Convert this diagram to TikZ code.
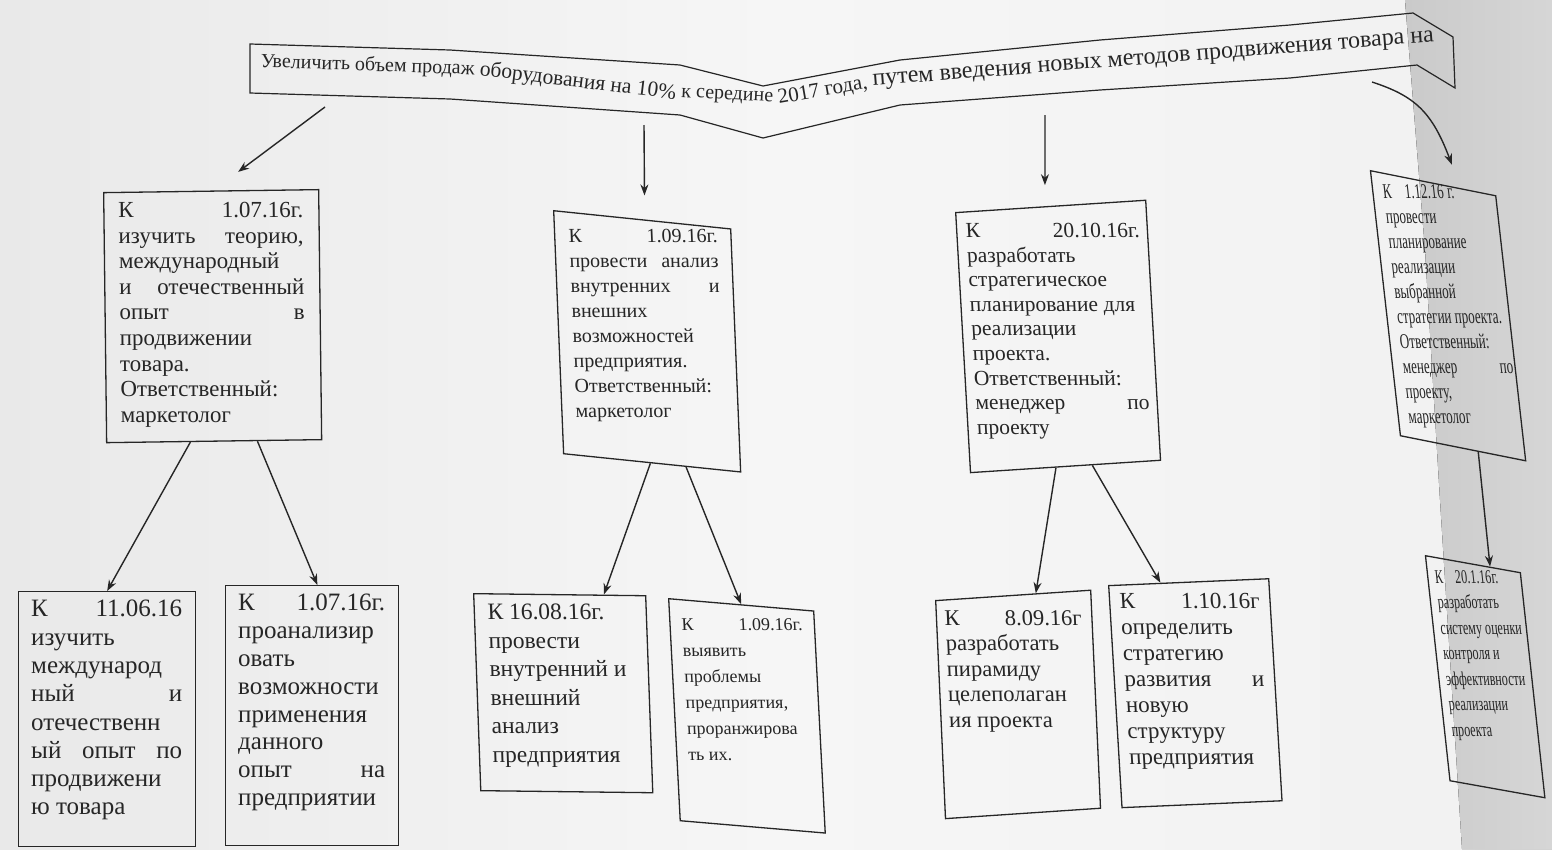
\documentclass[tikz,border=0pt]{standalone}
\usepackage{fontspec}
\setmainfont{Liberation Serif}
\usetikzlibrary{calc,arrows.meta}
\definecolor{ink}{HTML}{262626}
\definecolor{pageL}{HTML}{E9E9E9}
\definecolor{pageM}{HTML}{F6F6F6}
\definecolor{pageR}{HTML}{F1F1F1}
\definecolor{shadeA}{HTML}{CACACA}
\definecolor{shadeB}{HTML}{D6D6D6}
% one justified line, stretched over the whole text width
\newcommand\jl[1]{\makebox[\linewidth][s]{#1}}
% text block of a task card: width, font size, leading, lines
\newcommand\cellbox[4]{\parbox[t]{#1pt}{\fontsize{#2pt}{#3pt}\selectfont\raggedright #4\par}}
\newcommand\fs[1]{\fontsize{#1pt}{#1pt}\selectfont}
\tikzset{
  frame/.style={draw=ink, line width=1.3pt, anchor=north west, inner sep=0pt},
  txt/.style={anchor=north west, text=ink, inner sep=0pt},
  arr/.style={draw=ink, line width=1.4pt, -{Stealth[length=11pt,width=8pt]}},
  bt/.style={text=ink, inner xsep=2.5pt, inner ysep=0pt, anchor=west},
  ribbon/.style={draw=ink, line width=1.2pt}
}
\begin{document}
\begin{tikzpicture}[x=1pt,y=-1pt]
\useasboundingbox (0,0) rectangle (1552,849);
% paper
\shade[left color=pageL, right color=pageR, middle color=pageM] (0,0) rectangle (1552,849);
\fill[left color=shadeA, right color=shadeB] (1405,0) -- (1552,0) -- (1552,849) -- (1462,849) -- (1440,500) -- (1425,250) -- cycle;

% goal ribbon
\coordinate (r1) at (250,44);
\coordinate (r2) at (450,50);
\coordinate (r3) at (680,65);
\coordinate (r4) at (763,86);
\coordinate (r5) at (900,60);
\coordinate (r6) at (1100,40);
\coordinate (r7) at (1290,25);
\coordinate (r8) at (1413,13);
\coordinate (r9) at (1453,37);
\coordinate (s9) at (1455,88);
\coordinate (s8) at (1417,65);
\coordinate (s7) at (1290,78);
\coordinate (s6) at (1100,90);
\coordinate (s5) at (900,105);
\coordinate (s4) at (763,138);
\coordinate (s3) at (680,115);
\coordinate (s2) at (450,99);
\coordinate (s1) at (250,93);
\draw[ribbon] (r1) -- (r2) -- (r3) -- (r4) -- (r5) -- (r6) -- (r7) -- (r8) -- (r9) -- (s9) -- (s8) -- (s7) -- (s6) -- (s5) -- (s4) -- (s3) -- (s2) -- (s1) -- cycle;
\node[bt, rotate=-2, font=\fs{20}] (g1) at (258,62) {Увеличить объем продаж};
\node[bt, rotate=-7, font=\fs{21.5}] (g2) at (g1.east) {оборудования на 10\%};
\node[bt, rotate=-3, font=\fs{20}] (g3) at (g2.east) {к середине};
\node[bt, rotate=10, font=\fs{21}] (g4) at (g3.east) {2017 года,};
\node[bt, rotate=4.5, font=\fs{24}] (g5) at (g4.east) {путем введения новых методов продвижения товара на};

% first level task cards: frame, then its text
\node[frame, minimum width=215pt, minimum height=250pt, cm={1,0.014,-0.012,1,(0,0)}] (A) at (103,192) {};
\node[txt, cm={1,0,-0.012,1,(0,0)}] (At) at ($(A.north west)+(15,10)$)
 {\cellbox{185}{23}{25.6}{\jl{К 1.07.16г.}\\ \jl{изучить теорию,}\\ международный\\ \jl{и отечественный}\\ \jl{опыт в}\\ продвижении\\ товара.\\ Ответственный:\\ маркетолог}};

\node[frame, minimum width=177pt, minimum height=243pt, cm={1,-0.103,-0.041,1,(0,0)}] (B) at (553,210) {};
\node[txt, cm={1,0,-0.041,1,(0,0)}] (Bt) at ($(B.north west)+(15,19)$)
 {\cellbox{149}{20}{25}{\jl{К 1.09.16г.}\\ \jl{провести анализ}\\ \jl{внутренних и}\\ внешних\\ возможностей\\ предприятия.\\ Ответственный:\\ маркетолог}};

\node[frame, minimum width=190pt, minimum height=260pt, cm={1,0.065,-0.057,1,(0,0)}] (C) at (955,212) {};
\node[txt, cm={1,0,-0.057,1,(0,0)}] (Ct) at ($(C.north west)+(10,11)$)
 {\cellbox{174}{21.5}{24.6}{\jl{К 20.10.16г.}\\ разработать\\ стратегическое\\ планирование для\\ реализации\\ проекта.\\ Ответственный:\\ \jl{менеджер по}\\ проекту}};

\node[frame, minimum width=202pt, minimum height=265pt, cm={0.62,-0.124,-0.113,1,(0,0)}] (D) at (1370,170) {};
\node[txt, cm={0.62,0,-0.113,1,(0,0)}] (Dt) at ($(D.north west)+(12,14)$)
 {\cellbox{178}{21}{25}{К\quad 1.12.16 г.\\ провести\\ планирование\\ реализации\\ выбранной\\ стратегии проекта.\\ Ответственный:\\ \jl{менеджер по}\\ проекту,\\ маркетолог}};

% second level task cards
\node[frame, minimum width=177pt, minimum height=255pt] (F) at (18,591) {};
\node[txt] (Ft) at ($(F.north west)+(13,9)$)
 {\cellbox{151}{25}{28.3}{\jl{К 11.06.16}\\ изучить\\ международ\\ \jl{ный и}\\ отечественн\\ \jl{ый опыт по}\\ продвижени\\ ю товара}};

\node[frame, minimum width=173pt, minimum height=260pt] (G) at (225,585) {};
\node[txt] (Gt) at ($(G.north west)+(13,9)$)
 {\cellbox{147}{25}{27.8}{\jl{К 1.07.16г.}\\ проанализир\\ овать\\ возможности\\ применения\\ данного\\ \jl{опыт на}\\ предприятии}};

\node[frame, minimum width=172pt, minimum height=197pt, cm={1,-0.012,-0.036,1,(0,0)}] (H) at (473,593) {};
\node[txt, cm={1,0,-0.036,1,(0,0)}] (Ht) at ($(H.north west)+(14,11)$)
 {\cellbox{146}{23.5}{28.5}{К 16.08.16г.\\ провести\\ внутренний и\\ внешний\\ анализ\\ предприятия}};

\node[frame, minimum width=145pt, minimum height=222pt, cm={1,-0.085,-0.052,1,(0,0)}] (I) at (668,598) {};
\node[txt, cm={1,0,-0.052,1,(0,0)}] (It) at ($(I.north west)+(13,20)$)
 {\cellbox{121}{18}{26}{\jl{К 1.09.16г.}\\ выявить\\ проблемы\\ предприятия,\\ проранжирова\\ ть их.}};

\node[frame, minimum width=155pt, minimum height=218pt, cm={1,0.067,-0.045,1,(0,0)}] (J) at (935,600) {};
\node[txt, cm={1,0,-0.045,1,(0,0)}] (Jt) at ($(J.north west)+(9,10)$)
 {\cellbox{137}{22.5}{25.5}{\jl{К 8.09.16г}\\ разработать\\ пирамиду\\ целеполаган\\ ия проекта}};

\node[frame, minimum width=160pt, minimum height=222pt, cm={1,0.043,-0.06,1,(0,0)}] (K) at (1108,585) {};
\node[txt, cm={1,0,-0.06,1,(0,0)}] (Kt) at ($(K.north west)+(11,8)$)
 {\cellbox{140}{23}{26}{\jl{К 1.10.16г}\\ определить\\ стратегию\\ \jl{развития и}\\ новую\\ структуру\\ предприятия}};

\node[frame, minimum width=153pt, minimum height=225pt, cm={0.62,-0.111,-0.109,1,(0,0)}] (E) at (1425,555) {};
\node[txt, cm={0.62,0,-0.109,1,(0,0)}] (Et) at ($(E.north west)+(9,15)$)
 {\cellbox{133}{19.5}{25.5}{К\quad 20.1.16г.\\ разработать\\ систему оценки\\ контроля и\\ эффективности\\ реализации\\ проекта}};

% arrows from the goal
\coordinate (o1) at (325,107);
\coordinate (o2) at (644,125);
\coordinate (o3) at (1045,115);
\coordinate (o4) at (1372,82);
\draw[arr, shorten >=31pt] (o1) -- ($(A.north west)!0.51!(A.north east)$);
\draw[arr, shorten >=24pt] (o2) -- ($(B.north west)!0.514!(B.north east)$);
\draw[arr, shorten >=21pt] (o3) -- ($(C.north west)!0.47!(C.north east)$);
\draw[arr, shorten >=25pt] (o4) .. controls (1415,96) and (1432,112) .. ($(D.north west)!0.72!(D.north east)$);

% arrows between levels
\draw[arr] ($(A.south west)!0.39!(A.south east)$) -- ($(F.north west)!0.50!(F.north east)$);
\draw[arr] ($(A.south west)!0.70!(A.south east)$) -- ($(G.north west)!0.53!(G.north east)$);
\draw[arr] ($(B.south west)!0.49!(B.south east)$) -- ($(H.north west)!0.755!(H.north east)$);
\draw[arr] ($(B.south west)!0.69!(B.south east)$) -- ($(I.north west)!0.50!(I.north east)$);
\draw[arr] ($(C.south west)!0.45!(C.south east)$) -- ($(J.north west)!0.645!(J.north east)$);
\draw[arr] ($(C.south west)!0.64!(C.south east)$) -- ($(K.north west)!0.325!(K.north east)$);
\draw[arr] ($(D.south west)!0.62!(D.south east)$) -- ($(E.north west)!0.68!(E.north east)$);
\end{tikzpicture}
\end{document}
